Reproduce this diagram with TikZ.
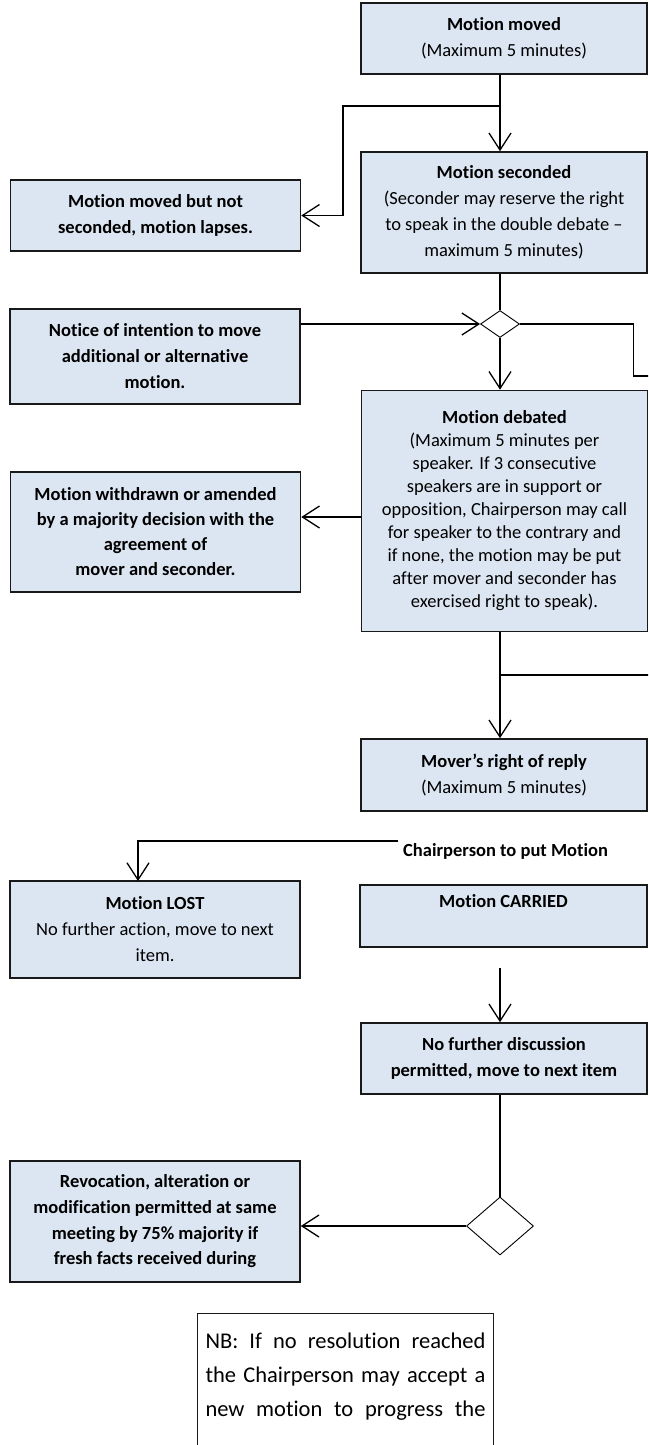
\documentclass[tikz,border=0pt]{standalone}
\usepackage{fontspec}
\setmainfont{Carlito}[Ligatures={TeX,NoCommon}]
\usetikzlibrary{arrows.meta,shapes.geometric}

\definecolor{boxfill}{RGB}{220,230,242}
\definecolor{boxline}{RGB}{25,25,25}
\newcommand{\nbline}[1]{\makebox[280pt][s]{\spaceskip=0pt\xspaceskip=0pt\relax #1}}

\begin{document}
\begin{tikzpicture}[x=1pt,y=-1pt,
		box/.style={draw=boxline,fill=boxfill,line width=1.6pt,align=center,inner sep=0pt,
			font=\fontsize{18.5}{26}\selectfont},
		lbox/.style={box,minimum width=290pt},
		rbox/.style={box,minimum width=286pt},
		choice/.style={draw,fill=white,diamond,line width=0.9pt,inner sep=0pt},
		arr/.style={line width=1.3pt,-{Straight Barb[length=17pt,width=22pt]}},
		plain/.style={line width=1.3pt}]
			\useasboundingbox (0,0) rectangle (648,1445);
			\clip (0,0) rectangle (648,1445);
			
			% right column
			\node[rbox,minimum height=71pt] (moved) at (504,38.5) {\textbf{Motion moved}\\(Maximum 5 minutes)};
			\node[rbox,minimum height=121pt] (seconded) at (504,212.5) {\textbf{Motion seconded}\\(Seconder may reserve the right\\to speak in the double debate –\\maximum 5 minutes)};
			\node[choice,minimum width=39pt,minimum height=27pt] (dia1) at (500,324) {};
			\node[rbox,minimum height=241pt,font=\fontsize{18.5}{23}\selectfont] (debated) at (504.5,511) {\textbf{Motion debated}\\(Maximum 5 minutes per\\speaker. If 3 consecutive\\speakers are in support or\\opposition, Chairperson may call\\for speaker to the contrary and\\if none, the motion may be put\\after mover and seconder has\\exercised right to speak).};
			\node[rbox,minimum height=72pt] (reply) at (504,775) {\textbf{Mover’s right of reply}\\(Maximum 5 minutes)};
			\node[font=\fontsize{18.5}{26}\selectfont\bfseries,anchor=west,inner sep=0pt] (chair) at (403,851) {Chairperson to put Motion};
			\node[rbox,minimum width=287pt,minimum height=62pt] (carried) at (503.5,916) {\textbf{Motion CARRIED}\\[4pt]\mbox{}};
			\node[rbox,minimum height=71pt] (nofurther) at (504,1058.5) {\textbf{No further discussion}\\\textbf{permitted, move to next item}};
			\node[choice,minimum width=67pt,minimum height=58pt] (dia2) at (500,1226) {};
			
			% left column
			\node[lbox,minimum height=71pt,font=\fontsize{18.5}{26}\selectfont\bfseries] (lapses) at (155.5,215.5) {Motion moved but not\\seconded, motion lapses.};
			\node[lbox,minimum height=95pt,font=\fontsize{18.5}{26}\selectfont\bfseries] (notice) at (155,356.5) {Notice of intention to move\\additional or alternative\\motion.};
			\node[lbox,minimum height=120pt,font=\fontsize{18.5}{25}\selectfont\bfseries] (withdrawn) at (155.5,532) {Motion withdrawn or amended\\by a majority decision with the\\agreement of\\mover and seconder.};
			\node[lbox,minimum height=97pt] (lost) at (155,929.5) {\textbf{Motion LOST}\\No further action, move to next\\item.};
			\node[lbox,minimum height=121pt,font=\fontsize{18.5}{25.7}\selectfont\bfseries] (revoc) at (155,1221.5) {Revocation, alteration or\\modification permitted at same\\meeting by 75\% majority if\\fresh facts received during};
			
			% note at the foot
			\node[draw=boxline,line width=1pt,anchor=north west,inner xsep=8pt,inner ysep=19pt,text width=280pt,align=left,
				font=\fontsize{22.5}{34}\selectfont] (nb) at (197,1313) {\nbline{NB: If no resolution reached}\\\nbline{the Chairperson may accept a}\\\nbline{new motion to progress the}\\\rule{0pt}{60pt}};
			
			% connectors
			\coordinate (spine) at (500,0);
			\coordinate (b1) at (500,106);
			\coordinate (b2) at (500,675);
			\coordinate (off1) at (650,376);
			\coordinate (off2) at (650,675);
			\coordinate (lostin) at (138,881);
			\coordinate (c2) at (500,968);
			
			\draw[arr] (moved.south -| spine) -- (seconded.north -| spine);
			\draw[arr] (b1) -- ++(-157,0) |- (lapses.east);
			\draw[plain] (seconded.south -| spine) -- (dia1.north);
			\draw[arr] (notice.east |- dia1.west) -- (dia1.west);
			\draw[plain] (dia1.east) -- ++(113.5,0) |- (off1);
			\draw[arr] (dia1.south) -- (debated.north -| spine);
			\draw[arr] (debated.west |- 0,517) -- (withdrawn.east |- 0,517);
			\draw[arr] (debated.south -| spine) -- (reply.north -| spine);
			\draw[plain] (b2) -- (off2);
			\draw[arr] ([xshift=-5pt,yshift=10pt]chair.west) -| (lostin);
			\draw[arr] (c2) -- (nofurther.north -| spine);
			\draw[plain] (nofurther.south -| spine) -- (dia2.north);
			\draw[arr] (dia2.west) -- (revoc.east |- dia2.west);
\end{tikzpicture}
\end{document}
